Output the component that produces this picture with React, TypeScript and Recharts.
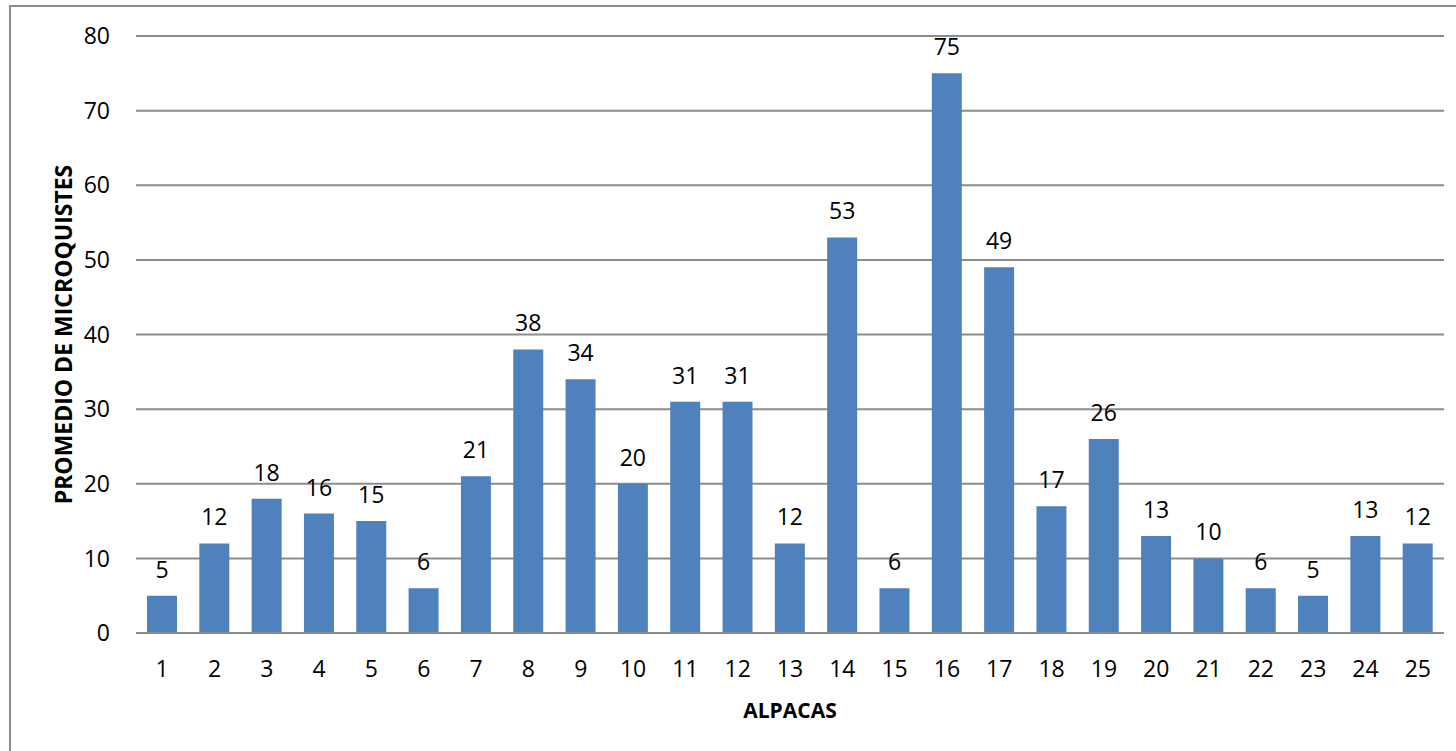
import React from "react";
import { BarChart, Bar, XAxis, YAxis, CartesianGrid, LabelList } from "recharts";

// Alpaca numbers on the category axis
const alpacas: string[] = [
  "1", "2", "3", "4", "5", "6", "7", "8", "9", "10", "11", "12", "13",
  "14", "15", "16", "17", "18", "19", "20", "21", "22", "23", "24", "25",
];

// Mean microcyst count for each alpaca
const promedio: number[] = [
  5, 12, 18, 16, 15, 6, 21, 38, 34, 20, 31, 31, 12, 53, 6, 75, 49, 17, 26, 13, 10, 6, 5, 13, 12,
];

const yTicks: number[] = [0, 10, 20, 30, 40, 50, 60, 70, 80];

const data = alpacas.map((a, i) => ({ alpaca: a, valor: promedio[i] }));

const FONT = "'Open Sans', 'Noto Sans', sans-serif";
const GRID = "#8c8c8c";
const BAR = "#4F81BD";

export default function App() {
  return (
    <div style={{ position: "absolute", left: 0, top: 0, width: 1456, height: 751, background: "#fff" }}>
      <div
        style={{
          position: "absolute",
          left: 9,
          top: 5,
          width: 1447,
          height: 746,
          borderLeft: "2px solid #8c8c8c",
          borderTop: "2px solid #8c8c8c",
        }}
      />
      <div style={{ position: "absolute", left: 0, top: 0 }}>
        <BarChart
          width={1456}
          height={751}
          data={data}
          margin={{ top: 36, right: 12, bottom: 58, left: 0 }}
        >
          <CartesianGrid vertical={false} stroke={GRID} strokeWidth={2} />
          <XAxis
            dataKey="alpaca"
            axisLine={{ stroke: GRID, strokeWidth: 2 }}
            tickLine={false}
            tickSize={0}
            tickMargin={28}
            height={60}
            tick={{ fill: "#000", fontSize: 23, fontFamily: FONT }}
            label={{
              value: "ALPACAS",
              position: "insideBottom",
              offset: -25,
              fill: "#000",
              fontSize: 21,
              fontWeight: 700,
              fontFamily: FONT,
            }}
          />
          <YAxis
            width={136}
            domain={[0, 80]}
            ticks={yTicks}
            axisLine={false}
            tickLine={false}
            tickSize={0}
            tickMargin={26}
            tick={{ fill: "#000", fontSize: 23, fontFamily: FONT }}
            label={{
              value: "PROMEDIO DE MICROQUISTES",
              angle: -90,
              position: "insideLeft",
              offset: 0,
              dx: 64,
              fill: "#000",
              fontSize: 23,
              fontWeight: 700,
              fontFamily: FONT,
              style: { textAnchor: "middle" },
            }}
          />
          <Bar dataKey="valor" fill={BAR} barSize={30} isAnimationActive={false}>
            <LabelList
              dataKey="valor"
              position="top"
              offset={18}
              fill="#000"
              fontSize={23}
              fontFamily={FONT}
            />
          </Bar>
        </BarChart>
      </div>
    </div>
  );
}
